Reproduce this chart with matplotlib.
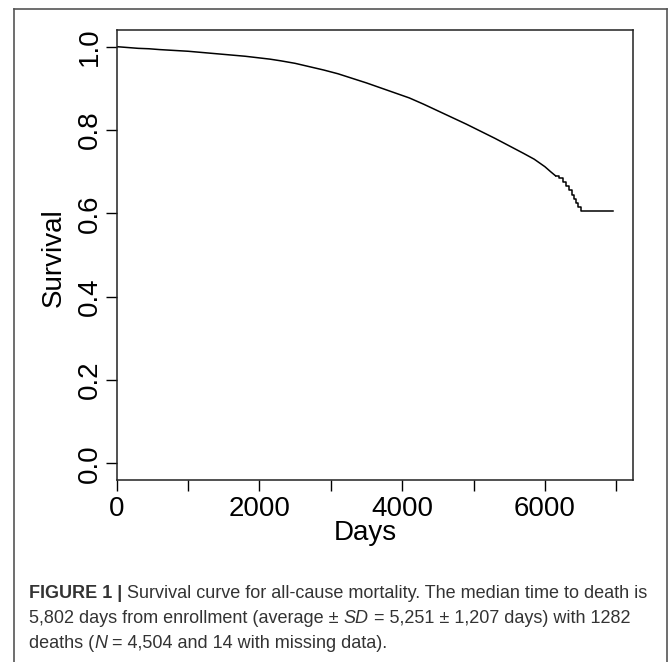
import matplotlib
matplotlib.use("Agg")
import matplotlib.pyplot as plt
from matplotlib.lines import Line2D

# ---- data ----
days = [0, 150, 300, 450, 600, 800, 1000, 1200, 1400, 1600, 1800, 2000, 2150,
        2300, 2500, 2700, 2900, 3100, 3300, 3500, 3700, 3900, 4100, 4300, 4500,
        4700, 4900, 5100, 5300, 5500, 5700, 5850, 6000, 6080, 6150, 6200, 6250,
        6300, 6340, 6380, 6410, 6440, 6470, 6500, 6950]
survival = [1.000, 0.998, 0.996, 0.995, 0.993, 0.991, 0.989, 0.986, 0.983, 0.980,
            0.977, 0.973, 0.970, 0.966, 0.960, 0.952, 0.944, 0.935, 0.924, 0.913,
            0.901, 0.889, 0.877, 0.862, 0.846, 0.830, 0.814, 0.797, 0.780, 0.762,
            0.744, 0.730, 0.712, 0.700, 0.690, 0.684, 0.676, 0.665, 0.656, 0.645,
            0.634, 0.624, 0.615, 0.606, 0.606]
# visible individual steps in the tail of the curve
tail_days = [6150, 6200, 6250, 6300, 6340, 6380, 6410, 6440, 6470, 6500, 6950]
tail_survival = [0.690, 0.684, 0.676, 0.665, 0.656, 0.645, 0.634, 0.624, 0.615, 0.606, 0.606]
x_ticks = [0, 1000, 2000, 3000, 4000, 5000, 6000, 7000]
x_tick_labels = ["0", "", "2000", "", "4000", "", "6000", ""]
y_ticks = [0.0, 0.2, 0.4, 0.6, 0.8, 1.0]
y_tick_labels = ["0.0", "0.2", "0.4", "0.6", "0.8", "1.0"]
x_label = "Days"
y_label = "Survival"
caption_lines = [
    [("FIGURE 1 | ", "bold"), ("Survival curve for all-cause mortality. The median time to death is", "normal")],
    [("5,802 days from enrollment (average \u00b1 ", "normal"), ("SD", "italic"),
     (" = 5,251 \u00b1 1,207 days) with 1282", "normal")],
    [("deaths (", "normal"), ("N", "italic"), (" = 4,504 and 14 with missing data).", "normal")],
]

W, H = 672, 662
fig = plt.figure(figsize=(W / 100, H / 100), dpi=100)
fig.patch.set_facecolor("white")

def fx(px):
    return px / W

def fy(py):
    return 1 - py / H

# axes box in pixels
L, R, T, B = 116.7, 632.5, 30, 480
ax = fig.add_axes([fx(L), fy(B), fx(R) - fx(L), fy(T) - fy(B)])
n_main = days.index(tail_days[0]) + 1
ax.plot(days[:n_main], survival[:n_main], color="black", lw=1.1)
ax.plot(tail_days, tail_survival, drawstyle="steps-post", color="black", lw=1.1)
ax.set_xlim(0, 7228)
ax.set_ylim(-0.04, 1.04)
ax.set_xticks(x_ticks)
ax.set_xticklabels(x_tick_labels)
ax.set_yticks(y_ticks)
ax.set_yticklabels(y_tick_labels, rotation=90, va="center")
font = "Liberation Sans"
for lab in ax.get_xticklabels() + ax.get_yticklabels():
    lab.set_fontfamily(font)
    lab.set_fontsize(20)
ax.tick_params(axis="both", direction="out", length=8, width=1.0, color="black")
ax.tick_params(axis="x", pad=3.5)
ax.tick_params(axis="y", pad=2)
for s in ax.spines.values():
    s.set_linewidth(1.1)
    s.set_color("#222222")

fig.text(fx(365), fy(533), x_label, ha="center", va="center", fontsize=20, family=font)
fig.text(fx(54), fy(258), y_label, ha="center", va="center", rotation=90, fontsize=20, family=font)

# outer frame (open at the bottom)
fc = "#555555"
fig.add_artist(Line2D([fx(14), fx(14)], [fy(9), 0], color=fc, lw=1.2))
fig.add_artist(Line2D([fx(667), fx(667)], [fy(9), 0], color=fc, lw=1.2))
fig.add_artist(Line2D([fx(14), fx(667)], [fy(9), fy(9)], color=fc, lw=1.2))

# caption
renderer = fig.canvas.get_renderer()
baselines = [598, 623, 648]
cap_font = "Liberation Sans"
cap_size = 12.95
for line, base in zip(caption_lines, baselines):
    x = 29.0
    for txt, style in line:
        kw = dict(fontsize=cap_size, family=cap_font, color="#333333", va="baseline", ha="left")
        if style == "bold":
            kw["fontweight"] = "bold"
        elif style == "italic":
            kw["fontstyle"] = "italic"
        t = fig.text(fx(x), fy(base), txt, **kw)
        bb = t.get_window_extent(renderer)
        x = bb.x1

fig.savefig("out.png", dpi=100, facecolor="white")
